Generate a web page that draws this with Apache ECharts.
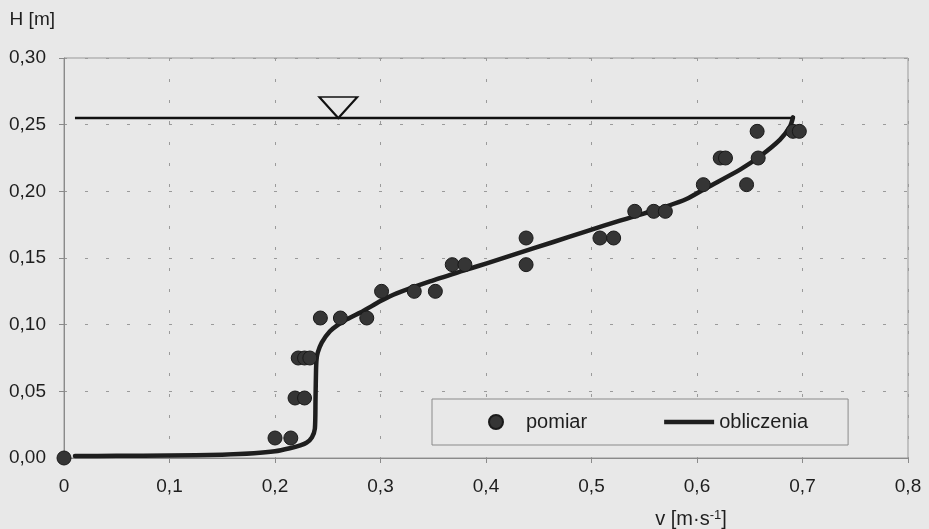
<!DOCTYPE html>
<html>
<head>
<meta charset="utf-8">
<script src="https://cdn.jsdelivr.net/npm/echarts@6/dist/echarts.min.js"></script>
<style>
  html, body { margin: 0; padding: 0; background: #e8e8e8; }
  #chart { width: 929px; height: 529px; }
</style>
</head>
<body>
<div id="chart"></div>
<script>
// Measured velocity profile (pomiar): v [m/s] against depth H [m]
const measV = [0.000, 0.200, 0.215, 0.219, 0.228, 0.222, 0.228, 0.233, 0.243, 0.262, 0.287,
               0.301, 0.332, 0.352, 0.368, 0.380, 0.438, 0.438, 0.508, 0.521, 0.541, 0.559,
               0.570, 0.606, 0.647, 0.622, 0.627, 0.658, 0.657, 0.691, 0.697];
const measH = [0.000, 0.015, 0.015, 0.045, 0.045, 0.075, 0.075, 0.075, 0.105, 0.105, 0.105,
               0.125, 0.125, 0.125, 0.145, 0.145, 0.145, 0.165, 0.165, 0.165, 0.185, 0.185,
               0.185, 0.205, 0.205, 0.225, 0.225, 0.225, 0.245, 0.245, 0.245];

// Computed profile (obliczenia)
const calcV = [0.0104, 0.050, 0.100, 0.150, 0.180, 0.200, 0.214, 0.224, 0.230, 0.235, 0.2378,
               0.2384, 0.2389, 0.2394, 0.2405, 0.2443, 0.2521, 0.260, 0.268, 0.2837, 0.300,
               0.3153, 0.3469, 0.3785, 0.4007, 0.430, 0.4638, 0.495, 0.527, 0.5713, 0.590,
               0.609, 0.6408, 0.6597, 0.6787, 0.6882, 0.691];
const calcH = [0.0015, 0.0016, 0.0019, 0.0025, 0.0035, 0.0050, 0.0073, 0.0095, 0.0115, 0.0155, 0.0220,
               0.0440, 0.0660, 0.0740, 0.0790, 0.0866, 0.0950, 0.1000, 0.1040, 0.1103, 0.1177,
               0.1235, 0.1325, 0.1405, 0.1460, 0.1535, 0.1620, 0.1700, 0.1780, 0.1888, 0.1942,
               0.2026, 0.2163, 0.2263, 0.2388, 0.2487, 0.2555];

// Water surface
const surfaceLevel = 0.255;
const surfaceV = [0.0104, 0.691];
const surfaceMarkV = 0.26;

// Axis ticks
const xTicks = [0, 0.1, 0.2, 0.3, 0.4, 0.5, 0.6, 0.7, 0.8];
const yTicks = [0, 0.05, 0.10, 0.15, 0.20, 0.25, 0.30];

const FONT = '"Liberation Sans", Arial, sans-serif';
const TXT = '#1e1e1e';
const BG = '#e8e8e8';
const comma = (v, d) => v.toFixed(d).replace('.', ',');

const chart = echarts.init(document.getElementById('chart'), null, { renderer: 'canvas' });

const gridDash = { color: '#9a9a9a', width: 1, type: [3, 18] };

chart.setOption({
  backgroundColor: BG,
  animation: false,
  textStyle: { fontFamily: FONT, color: TXT },
  grid: {
    left: 64, right: 21, top: 58, bottom: 70,
    show: true, borderColor: '#999', borderWidth: 1, backgroundColor: 'transparent'
  },
  xAxis: {
    type: 'value',
    min: xTicks[0], max: xTicks[xTicks.length - 1], interval: 0.1,
    axisLine: { show: true, onZero: false, lineStyle: { color: '#8a8a8a', width: 1 } },
    axisTick: { show: true, length: 5, lineStyle: { color: '#8a8a8a' } },
    axisLabel: {
      margin: 19, fontSize: 19, color: TXT, fontFamily: FONT,
      formatter: v => (Math.abs(v) < 1e-9 ? '0' : comma(v, 1))
    },
    splitLine: { show: true, lineStyle: gridDash },
    name: 'v [m·s{sup|-1}]',
    nameLocation: 'end',
    nameGap: -217,
    nameTextStyle: {
      fontSize: 20, color: TXT, fontFamily: FONT,
      align: 'center', verticalAlign: 'top', padding: [51, 0, 0, 0],
      rich: { sup: { fontSize: 13, color: TXT, fontFamily: FONT, verticalAlign: 'top', padding: [0, 0, 6, 0] } }
    }
  },
  yAxis: {
    type: 'value',
    min: yTicks[0], max: yTicks[yTicks.length - 1], interval: 0.05,
    axisLine: { show: true, lineStyle: { color: '#8a8a8a', width: 1 } },
    axisTick: { show: true, length: 5, lineStyle: { color: '#8a8a8a' } },
    axisLabel: {
      margin: 18, fontSize: 19, color: TXT, fontFamily: FONT,
      formatter: v => comma(v, 2)
    },
    splitLine: { show: true, lineStyle: gridDash },
    name: 'H [m]',
    nameLocation: 'end',
    nameGap: 29,
    nameTextStyle: { fontSize: 19, color: TXT, fontFamily: FONT, align: 'right', padding: [0, 9, 0, 0] }
  },
  legend: {
    left: 432, top: 399,
    orient: 'horizontal',
    padding: [13, 40, 13, 56],
    itemGap: 77,
    itemWidth: 50, itemHeight: 14,
    borderColor: '#8a8a8a', borderWidth: 1,
    backgroundColor: BG,
    textStyle: { fontSize: 20, color: TXT, fontFamily: FONT },
    data: [
      { name: 'pomiar', icon: 'circle' },
      { name: 'obliczenia', icon: 'path://M0,0L50,0L50,4.5L0,4.5Z', itemStyle: { color: '#1e1e1e' } }
    ]
  },
  series: [
    {
      name: 'obliczenia',
      type: 'line',
      data: calcV.map((v, i) => [v, calcH[i]]),
      showSymbol: false,
      symbol: 'none',
      smooth: 0.25,
      lineStyle: { color: '#1e1e1e', width: 4.5, cap: 'round', join: 'round' },
      itemStyle: { color: '#1e1e1e' },
      z: 3
    },
    {
      name: 'zwierciadło',
      type: 'line',
      data: surfaceV.map(v => [v, surfaceLevel]),
      showSymbol: false,
      symbol: 'none',
      lineStyle: { color: '#111', width: 2.5 },
      z: 2,
      markPoint: {
        symbol: 'path://M0,0L38,0L19,21Z',
        symbolSize: [38, 21],
        symbolOffset: [0, -10.5],
        itemStyle: { color: BG, borderColor: '#111', borderWidth: 2 },
        label: { show: false },
        data: [{ coord: [surfaceMarkV, surfaceLevel] }]
      }
    },
    {
      name: 'pomiar',
      type: 'scatter',
      data: measV.map((v, i) => [v, measH[i]]),
      symbol: 'circle',
      symbolSize: 14,
      itemStyle: { color: '#353535', borderColor: '#1a1a1a', borderWidth: 1, opacity: 1 },
      z: 4
    }
  ]
});
</script>
</body>
</html>
